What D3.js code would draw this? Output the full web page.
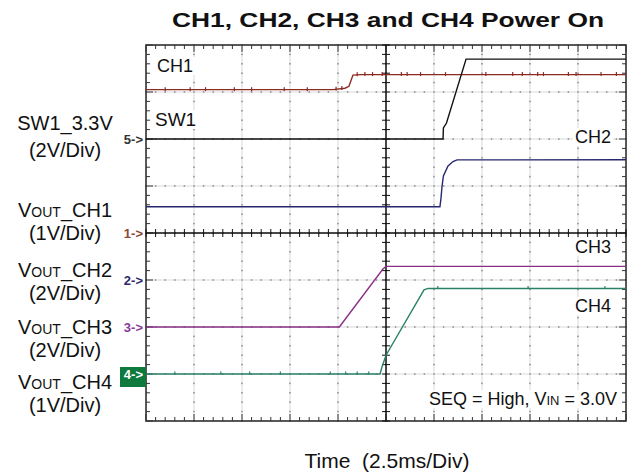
<!DOCTYPE html>
<html>
<head>
<meta charset="utf-8">
<script src="https://cdn.jsdelivr.net/npm/d3@7"></script>
<style>
  html, body { margin: 0; padding: 0; background: #fff; }
  svg { display: block; font-family: "Liberation Sans", Arial, sans-serif; }
</style>
</head>
<body>
<svg id="chart" width="634" height="476"></svg>
<script>
// ---------------- DATA ----------------
const channels = ["SW1", "CH1", "CH2", "CH3", "CH4"];
const voltsPerDiv = [2, 1, 2, 2, 1];
const groundDiv = [2, 0, -1, -2, -3];          // ground marker position (divisions from centre)
const markerText = ["5->", "1->", "2->", "3->", "4->"];

// time in ms (2.5 ms/div), voltage in V
const sw1Time = [0, 15.47, 15.49, 15.65, 16.67, 25];
const sw1Volt = [0, 0, 0.47, 0.68, 3.40, 3.40];

const ch1Time = [0, 9.74, 10.36, 10.57, 10.78, 11.2, 25];
const ch1Volt = [3.05, 3.05, 3.08, 3.12, 3.36, 3.37, 3.37];

const ch2Time = [0, 15.31, 15.36, 15.42, 15.49, 15.73, 15.99, 16.20, 25];
const ch2Volt = [3.12, 3.12, 3.45, 4.00, 4.43, 4.85, 5.04, 5.11, 5.12];

const ch3Time = [0, 10.07, 12.34, 12.5, 25];
const ch3Volt = [0, 0, 2.47, 2.58, 2.58];

const ch4Time = [0, 12.19, 12.29, 12.5, 14.48, 14.69, 25];
const ch4Volt = [0, 0, 0.15, 0.40, 1.79, 1.82, 1.82];

// small glitches seen on the traces (ms)
const ch1Glitch = [1.0, 2.3, 3.1, 4.6, 5.5, 7.2, 8.4, 9.9, 10.2, 11.0, 11.4, 11.8, 12.3, 13.3, 13.6, 14.3, 15.6, 17.7, 19.1, 19.6, 20.4, 20.7, 22.0, 22.4, 23.7, 24.5];
const ch4Glitch = [1.5, 3.9, 5.4, 7.0, 9.6, 10.4, 11.0, 11.6, 15.2, 19.9, 23.9];

const title = "CH1, CH2, CH3 and CH4 Power On";
const xTitle = "Time  (2.5ms/Div)";
const timeDomain = [0, 25];
const divDomain = [-4, 4];
const traceColors = ["#111111", "#8c2b22", "#27276f", "#8a2f88", "#2b8068"];
const markerColors = ["#333333", "#8a4a3a", "#2a2a6a", "#8a3a9a", "#ffffff"];

// ---------------- CHART ----------------
const svg = d3.select("#chart");
const L = 146, R = 626, T = 45, B = 421;
const x = d3.scaleLinear().domain(timeDomain).range([L, R]);
const y = d3.scaleLinear().domain(divDomain).range([B, T]);

// grid
const grid = svg.append("g");
const majorT = d3.range(0, 25.01, 2.5);
const majorD = d3.range(-4, 4.01, 1);
const minorT = d3.range(0, 25.001, 0.5);
const minorD = d3.range(-4, 4.001, 0.2);

majorT.slice(1, -1).forEach(t => {
  grid.append("line").attr("x1", x(t)).attr("x2", x(t)).attr("y1", T).attr("y2", B)
    .attr("stroke", "#ececec").attr("stroke-width", 2);
  grid.selectAll(null).data(minorD).join("rect")
    .attr("x", x(t) - 0.75).attr("y", d => y(d) - 0.75).attr("width", 1.5).attr("height", 1.5)
    .attr("fill", "#8a8a8a");
});
majorD.slice(1, -1).forEach(d => {
  grid.append("line").attr("y1", y(d)).attr("y2", y(d)).attr("x1", L).attr("x2", R)
    .attr("stroke", "#ececec").attr("stroke-width", 2);
  grid.selectAll(null).data(minorT).join("rect")
    .attr("y", y(d) - 0.75).attr("x", t => x(t) - 0.75).attr("width", 1.5).attr("height", 1.5)
    .attr("fill", "#8a8a8a");
});

// frame
svg.append("rect").attr("x", L).attr("y", T).attr("width", R - L).attr("height", B - T)
  .attr("fill", "none").attr("stroke", "#222").attr("stroke-width", 1.5);

// frame ticks (inward)
const ticks = svg.append("g").attr("stroke", "#333").attr("stroke-width", 1);
minorT.forEach(t => {
  const major = Math.abs(t / 2.5 - Math.round(t / 2.5)) < 1e-6;
  const len = major ? 7 : 4;
  ticks.append("line").attr("x1", x(t)).attr("x2", x(t)).attr("y1", T).attr("y2", T + len);
  ticks.append("line").attr("x1", x(t)).attr("x2", x(t)).attr("y1", B).attr("y2", B - len);
});
minorD.forEach(d => {
  const major = Math.abs(d - Math.round(d)) < 1e-6;
  const len = major ? 7 : 4;
  ticks.append("line").attr("y1", y(d)).attr("y2", y(d)).attr("x1", L).attr("x2", L + len);
  ticks.append("line").attr("y1", y(d)).attr("y2", y(d)).attr("x1", R).attr("x2", R - len);
});

// centre axes
const cx = x(12.5), cy = y(0);
svg.append("line").attr("x1", cx).attr("x2", cx).attr("y1", T).attr("y2", B).attr("stroke", "#111").attr("stroke-width", 1.5);
svg.append("line").attr("x1", L).attr("x2", R).attr("y1", cy).attr("y2", cy).attr("stroke", "#111").attr("stroke-width", 1.5);
minorT.forEach(t => svg.append("line").attr("x1", x(t)).attr("x2", x(t)).attr("y1", cy - 4).attr("y2", cy + 4).attr("stroke", "#111").attr("stroke-width", 1));
minorD.forEach(d => svg.append("line").attr("y1", y(d)).attr("y2", y(d)).attr("x1", cx - 4).attr("x2", cx + 4).attr("stroke", "#111").attr("stroke-width", 1));

// traces
const traceTimes = [sw1Time, ch1Time, ch2Time, ch3Time, ch4Time];
const traceVolts = [sw1Volt, ch1Volt, ch2Volt, ch3Volt, ch4Volt];
const toDiv = (i, v) => groundDiv[i] + v / voltsPerDiv[i];
const line = d3.line().x(d => x(d[0])).y(d => y(d[1]));
[4, 3, 2, 1, 0].forEach(i => {
  const pts = traceTimes[i].map((t, k) => [t, toDiv(i, traceVolts[i][k])]);
  svg.append("path").attr("d", line(pts)).attr("fill", "none")
    .attr("stroke", traceColors[i]).attr("stroke-width", 1.4);
});

// glitches
function levelAt(i, t) {
  const ts = traceTimes[i], vs = traceVolts[i];
  for (let k = 1; k < ts.length; k++) {
    if (t <= ts[k]) {
      const f = (t - ts[k - 1]) / (ts[k] - ts[k - 1] || 1);
      return vs[k - 1] + f * (vs[k] - vs[k - 1]);
    }
  }
  return vs[vs.length - 1];
}
ch1Glitch.forEach(t => {
  const yy = y(toDiv(1, levelAt(1, t)));
  svg.append("line").attr("x1", x(t)).attr("x2", x(t)).attr("y1", yy - 2.5).attr("y2", yy + 1.5)
    .attr("stroke", traceColors[1]).attr("stroke-width", 1.2);
});
ch4Glitch.forEach(t => {
  const yy = y(toDiv(4, levelAt(4, t)));
  svg.append("line").attr("x1", x(t)).attr("x2", x(t)).attr("y1", yy - 2.5).attr("y2", yy + 0.5)
    .attr("stroke", traceColors[4]).attr("stroke-width", 1.2);
});

// ground markers
channels.forEach((c, i) => {
  const yy = y(groundDiv[i]);
  if (i === 4) {
    svg.append("rect").attr("x", 120).attr("y", yy - 7).attr("width", 26).attr("height", 20).attr("fill", "#0e7a3e");
  }
  svg.append("text").attr("x", 143).attr("y", yy + 4.5).attr("text-anchor", "end")
    .attr("font-size", 13).attr("font-weight", "bold").attr("fill", markerColors[i]).text(markerText[i]);
});

// in-plot labels
function boxedText(tx, ty, anchor, size, parts) {
  const t = svg.append("text").attr("x", tx).attr("y", ty).attr("text-anchor", anchor).attr("font-size", size).attr("fill", "#111");
  parts.forEach(p => t.append("tspan").attr("font-size", p[1] || size).text(p[0]));
  const bb = t.node().getBBox();
  svg.insert("rect", () => t.node()).attr("x", bb.x - 2).attr("y", bb.y + 1).attr("width", bb.width + 4).attr("height", bb.height - 2).attr("fill", "#fff");
  return t;
}
boxedText(157, 72, "start", 18, [["CH1"]]);
boxedText(155, 126, "start", 19, [["SW1"]]);
boxedText(611, 143, "end", 18, [["CH2"]]);
boxedText(611, 253, "end", 18, [["CH3"]]);
boxedText(611, 312, "end", 18, [["CH4"]]);
boxedText(617, 405, "end", 18, [["SEQ = High, V"], ["IN", 13], [" = 3.0V"]]);

// left labels
const leftMain = [["SW1_3.3V"], ["V", "OUT", "_CH1"], ["V", "OUT", "_CH2"], ["V", "OUT", "_CH3"], ["V", "OUT", "_CH4"]];
const leftScale = voltsPerDiv.map(v => `(${v}V/Div)`);
const leftY = [[130, 157], [217, 240], [277, 300], [334, 357], [389, 412]];
leftMain.forEach((parts, i) => {
  const t = svg.append("text").attr("x", 65).attr("y", leftY[i][0]).attr("text-anchor", "middle").attr("font-size", 20).attr("fill", "#111");
  parts.forEach((p, k) => t.append("tspan").attr("font-size", (parts.length > 1 && k === 1) ? 14 : 20).text(p));
  svg.append("text").attr("x", 65).attr("y", leftY[i][1]).attr("text-anchor", "middle").attr("font-size", 20).attr("fill", "#111").text(leftScale[i]);
});

// title & axis label
svg.append("text").attr("x", 172).attr("y", 27).attr("font-size", 21).attr("font-weight", "bold").attr("fill", "#111")
  .attr("textLength", 432).attr("lengthAdjust", "spacingAndGlyphs").text(title);
svg.append("text").attr("x", 387).attr("y", 468).attr("text-anchor", "middle").attr("font-size", 21).attr("fill", "#111")
  .style("white-space", "pre").text(xTitle);
</script>
</body>
</html>
